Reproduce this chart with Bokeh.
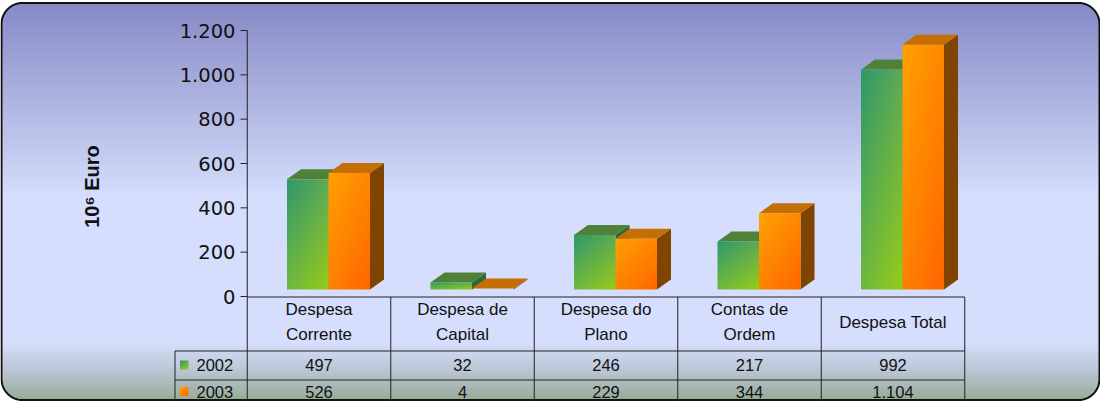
import numpy as np
from bokeh.plotting import figure
from bokeh.models import Range1d
from bokeh.core.properties import value
from bokeh.embed import file_html
from bokeh.resources import INLINE

# ---------------- data ----------------
categories = ["Despesa\nCorrente", "Despesa de\nCapital", "Despesa do\nPlano",
              "Contas de\nOrdem", "Despesa Total"]
series_names = ["2002", "2003"]
values_2002 = [497, 32, 246, 217, 992]
values_2003 = [526, 4, 229, 344, 1104]
y_ticks = [0, 200, 400, 600, 800, 1000, 1200]
y_tick_labels = ["0", "200", "400", "600", "800", "1.000", "1.200"]
y_title = "10\u2076 Euro"

# ---------------- layout helpers (page pixels -> data) ----------------
W, H, OFF = 1100, 401, 8
CAT0, CATW = 326.5, 143.5
ZERO = 304.0
PPU = 266.0 / 1200.0


def X(px):
    return (px - CAT0) / CATW


def Y(py):
    return (ZERO - py) / PPU


def DX(px):
    return px / CATW


def DY(px):
    return px / PPU


def fmt(v):
    return f"{v:,}".replace(",", ".")


p = figure(width=W, height=H,
           x_range=Range1d(X(OFF), X(OFF + W)), y_range=Range1d(Y(OFF + H), Y(OFF)),
           output_backend="svg", toolbar_location=None, min_border=0,
           x_axis_location=None, y_axis_location=None,
           background_fill_color="white", border_fill_color="white",
           outline_line_color=None)
p.grid.visible = False

# ---------------- background (rounded frame with gradient) ----------------
FL, FT, FR, FB, RAD = 9.0, 10.5, 1107.0, 407.5, 21.0
stop_y = [10, 205, 350, 378, 408]
stop_c = np.array([(134, 137, 198), (213, 222, 252), (213, 222, 252),
                   (186, 198, 212), (150, 170, 150)], dtype=float)


def inset(yc):
    if yc < FT + RAD:
        d = FT + RAD - yc
    elif yc > FB - RAD:
        d = yc - (FB - RAD)
    else:
        return 0.0
    d = min(d, RAD)
    return RAD - np.sqrt(RAD * RAD - d * d)


rows = np.arange(FT, FB, 1.0)
bl, br, bt, bb, bc = [], [], [], [], []
for yy in rows:
    yc = yy + 0.5
    ins = inset(yc)
    bl.append(X(FL + ins))
    br.append(X(FR - ins))
    bt.append(Y(yy))
    bb.append(Y(min(yy + 1.6, FB)))
    c = [int(round(np.interp(yc, stop_y, stop_c[:, k]))) for k in range(3)]
    bc.append("#%02x%02x%02x" % tuple(c))
p.quad(left=bl, right=br, top=bt, bottom=bb, fill_color=bc, line_color=None)

# frame border
pts = []


def arc(cx, cy, a0, a1, n=18):
    for a in np.linspace(a0, a1, n):
        pts.append((cx + RAD * np.cos(a), cy + RAD * np.sin(a)))


arc(FL + RAD, FT + RAD, np.pi, 1.5 * np.pi)
arc(FR - RAD, FT + RAD, 1.5 * np.pi, 2 * np.pi)
arc(FR - RAD, FB - RAD, 0, 0.5 * np.pi)
arc(FL + RAD, FB - RAD, 0.5 * np.pi, np.pi)
pts.append(pts[0])
p.line([X(a) for a, b in pts], [Y(b) for a, b in pts], line_color="#111111", line_width=2)


# ---------------- gradient helper ----------------
def grad(h, w, tl, tr, bl_, br_):
    u = np.linspace(0, 1, w)[None, :]
    v = np.linspace(1, 0, h)[:, None]  # row 0 is bottom -> v=1 (bottom)
    img = np.empty((h, w, 4), dtype=np.uint8)
    for k in range(3):
        top = tl[k] * (1 - u) + tr[k] * u
        bot = bl_[k] * (1 - u) + br_[k] * u
        img[:, :, k] = np.clip(top * (1 - v) + bot * v, 0, 255).astype(np.uint8)
    img[:, :, 3] = 255
    return img.view(np.uint32).reshape(h, w)


G_TL, G_TR, G_BL, G_BR = (48, 152, 108), (95, 170, 85), (112, 184, 66), (150, 205, 22)
O_TL, O_TR, O_BL, O_BR = (255, 162, 0), (255, 136, 0), (255, 130, 0), (255, 102, 0)
green_img = grad(160, 48, G_TL, G_TR, G_BL, G_BR)
orange_img = grad(160, 48, O_TL, O_TR, O_BL, O_BR)

# ---------------- 3D bars ----------------
idx = np.arange(len(categories), dtype=float)
BASE = Y(297)
ddx, ddy = DX(14), DY(10)
series = [
    (values_2002, idx + DX(-32), idx + DX(9.5), green_img, "#4f8238", "#2f6a35"),
    (values_2003, idx + DX(9.5), idx + DX(51), orange_img, "#c66e06", "#7f4500"),
]
for vals, L, R, img, top_col, side_col in series:
    T = BASE + np.array(vals, dtype=float)
    side_xs = [[r, r + ddx, r + ddx, r] for r in R]
    side_ys = [[BASE, BASE + ddy, t + ddy, t] for t in T]
    p.patches(side_xs, side_ys, fill_color=side_col, line_color=None)
    top_xs = [[l, r, r + ddx, l + ddx] for l, r in zip(L, R)]
    top_ys = [[t, t, t + ddy, t + ddy] for t in T]
    p.patches(top_xs, top_ys, fill_color=top_col, line_color=None)
    p.image_rgba(image=[img] * len(vals), x=list(L), y=[BASE] * len(vals),
                 dw=list(R - L), dh=list(np.array(vals, dtype=float)))

# ---------------- y axis (drawn) ----------------
LC = "#222222"
p.segment(x0=[X(248)] * len(y_ticks), x1=[-0.5] * len(y_ticks), y0=y_ticks, y1=y_ticks,
          line_color=LC, line_width=1)
p.segment(x0=[-0.5], x1=[-0.5], y0=[y_ticks[-1]], y1=[Y(OFF + H)], line_color=LC, line_width=1)
p.text(x=[X(243)] * len(y_ticks), y=y_ticks, text=y_tick_labels,
       text_align="right", text_baseline="middle",
       text_font=value("DejaVu Sans"), text_font_size="19.5px", text_color="#111111")
p.text(x=[X(99)], y=[Y(194)], text=[y_title], angle=np.pi / 2,
       text_align="center", text_baseline="middle",
       text_font=value("Liberation Sans"), text_font_style="bold",
       text_font_size="20px", text_color="#111111")

# ---------------- data table ----------------
HDR_TOP, HDR_BOT, R1_BOT = 304.5, 358.5, 387.5
LEG_L = 182.5
bounds = np.arange(len(categories) + 1) - 0.5
# horizontal lines
p.segment(x0=[-0.5, X(LEG_L), X(LEG_L)], x1=[bounds[-1]] * 3,
          y0=[Y(HDR_TOP), Y(HDR_BOT), Y(R1_BOT)], y1=[Y(HDR_TOP), Y(HDR_BOT), Y(R1_BOT)],
          line_color=LC, line_width=1)
# vertical lines
p.segment(x0=list(bounds[1:]), x1=list(bounds[1:]),
          y0=[Y(HDR_TOP)] * (len(bounds) - 1), y1=[Y(OFF + H)] * (len(bounds) - 1),
          line_color=LC, line_width=1)
p.segment(x0=[X(LEG_L)], x1=[X(LEG_L)], y0=[Y(HDR_BOT)], y1=[Y(OFF + H)],
          line_color=LC, line_width=1)

TF = value("Liberation Sans")
p.text(x=list(idx), y=[Y(329.5)] * len(idx), text=categories,
       text_align="center", text_baseline="middle", text_line_height=1.3,
       text_font=TF, text_font_size="17px", text_color="#111111")
row_y = [Y(372.5), Y(399)]
for ry, vals in zip(row_y, [values_2002, values_2003]):
    p.text(x=list(idx), y=[ry] * len(idx), text=[fmt(v) for v in vals],
           text_align="center", text_baseline="middle",
           text_font=TF, text_font_size="16.5px", text_color="#111111")

# legend keys + names
key_imgs = [grad(12, 12, G_TL, G_TR, G_BL, G_BR), grad(12, 12, O_TL, O_TR, O_BL, O_BR)]
p.image_rgba(image=key_imgs, x=[X(187.5)] * 2, y=[ry - DY(4.5) for ry in row_y],
             dw=[DX(8.5)] * 2, dh=[DY(9)] * 2)
p.text(x=[X(204)] * 2, y=row_y, text=series_names,
       text_align="left", text_baseline="middle",
       text_font=TF, text_font_size="16.5px", text_color="#111111")

open("out.html", "w").write(file_html(p, INLINE))
